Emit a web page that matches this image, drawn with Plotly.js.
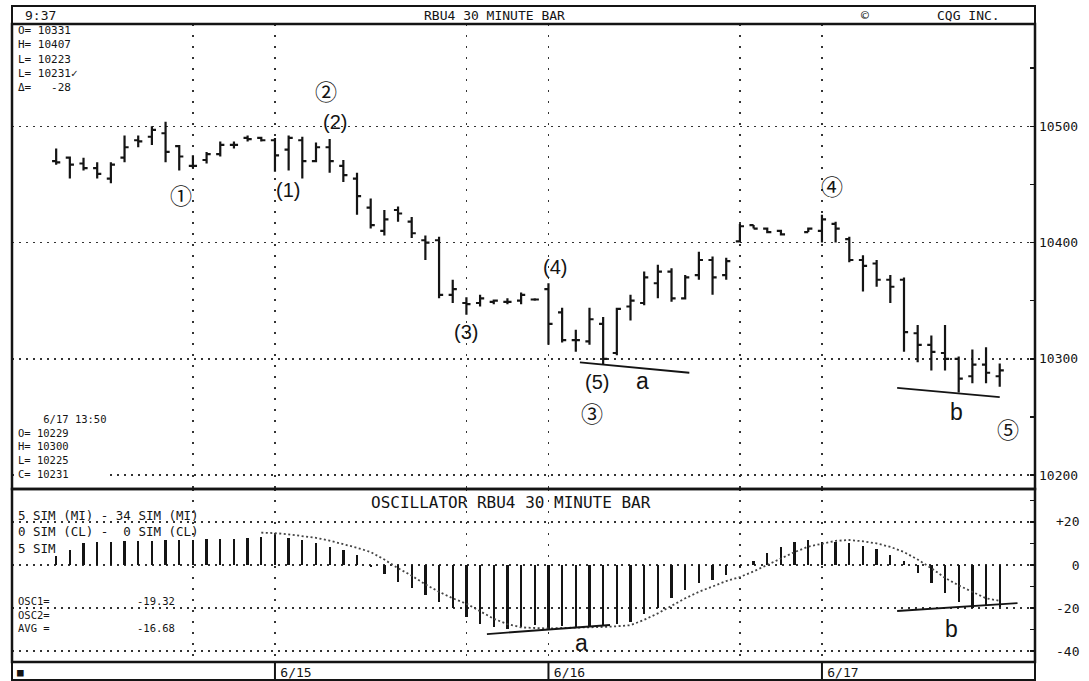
<!DOCTYPE html>
<html><head><meta charset="utf-8">
<script src="https://cdn.plot.ly/plotly-3.0.1.min.js"></script>
<style>html,body{margin:0;padding:0;background:#fff;}#chart{width:1089px;height:681px;}</style>
</head><body><div id="chart"></div>
<script>
// ---- data (30-minute bars, index 0..69) ----
const barIndex = [0,1,2,3,4,5,6,7,8,9,10,11,12,13,14,15,16,17,18,19,20,21,22,23,24,25,26,27,28,29,30,31,32,33,34,35,36,37,38,39,40,41,42,43,44,45,46,47,48,49,50,51,52,53,54,55,56,57,58,59,60,61,62,63,64,65,66,67,68,69];
const openP = [10470,10473,10468,10464,10455,10473,10488,10491,10494,10483,10466,10471,10476,10484,10490,10490,
  10488,10480,10488,10470,10482,10466,10455,10430,10410,10428,10418,10402,10402,10355,10348,10348,10349,10349,10350,10351,
  10360,10340,10316,10315,10330,10305,10345,10348,10365,10375,10352,10372,10385,10372,
  10401,10415,10412,10410,null,10409,
  10410,10416,10403,10385,10382,10368,10368,10322,10312,10305,10300,10285,10295,10285];
const highP = [10481,10474,10473,10469,10469,10492,10492,10500,10504,10484,10475,10478,10487,10487,10492,10491,
  10490,10492,10491,10486,10489,10471,10460,10438,10428,10431,10422,10406,10405,10368,10353,10355,10351,10352,10357,10352,
  10365,10344,10325,10344,10336,10344,10355,10375,10381,10378,10372,10392,10388,10387,
  10416,10415,10413,10411,null,10413,
  10424,10418,10405,10389,10385,10372,10370,10329,10320,10329,10302,10308,10310,10296];
const lowP = [10467,10455,10462,10455,10451,10469,10482,10484,10469,10462,10464,10468,10474,10481,10487,10487,
  10461,10462,10455,10469,10460,10452,10424,10412,10406,10418,10404,10385,10352,10348,10338,10345,10347,10347,10347,10350,
  10312,10314,10306,10312,10295,10303,10333,10346,10352,10349,10351,10368,10355,10368,
  10400,10412,10408,10406,null,10409,
  10400,10400,10383,10358,10362,10348,10306,10297,10290,10290,10271,10279,10279,10276];
const closeP = [10469,10467,10464,10459,10467,10482,10487,10497,10478,10474,10466,10476,10484,10484,10489,10488,
  10475,10490,10470,10482,10470,10458,10440,10415,10420,10425,10408,10400,10355,10360,10347,10352,10350,10349,10355,10351,
  10330,10316,10316,10334,10300,10343,10350,10370,10375,10352,10370,10385,10370,10384,
  10414,10412,10409,10407,null,10412,
  10420,10412,10385,10380,10368,10362,10323,10312,10306,10300,10283,10295,10288,10290];
const oscValues = [4,7,10,10.5,10.5,11,11,11,11.5,11.5,11.5,12,12,12,12.5,13,
  14,12.6,11.6,10,8.4,7,4.7,-1,-4,-8,-10.7,-14,-17,-20,-24,-27.6,-29,-29.7,-29,-28,
  -29.6,-28.5,-29,-29,-28,-27.5,-26.5,-22.6,-20,-15.3,-11.6,-8.4,-7,-4.6,
  -1,2,5.5,8.4,10.7,11.6,
  10.7,10.7,10,9,7.6,4.6,2,-3.8,-8.4,-13,-17,-20,-19,-19.32];
const avgValues = [null,null,null,null,null,null,null,null,null,null,null,null,null,null,null,
  15,14.8,14.2,13.5,12.6,11.3,9.8,8,6,2.5,-1.5,-5,-9,-12.5,-15.5,-18,-21.5,-25,-27.5,-29,
  -29.3,-29.5,-29.3,-29.2,-29,-28.8,-28.5,-28,-25.5,-22.5,-19,-15.5,-12.5,-10,-7.5,
  -5.6,-3,0,3,6,8.5,10,11.2,11.6,11,10,8.4,6,2.5,-1.5,-6,-9.5,-12.5,-15.5,-16.68];
// trend lines (bar index, value)
const trendA_x = [38.3, 46.3], trendA_y = [10297, 10288];
const trendB_x = [61.5, 69.0], trendB_y = [10275, 10267];
const oscTrendA_x = [31.5, 40.5], oscTrendA_y = [-32.1, -27.9];
const oscTrendB_x = [61.5, 70.3], oscTrendB_y = [-21.4, -17.7];
// axis labels
const gridIdx = [10, 16, 30, 36, 50, 56];
const gridText = ['', '6/15', '', '6/16', '', '6/17'];
const dayStartIdx = [16, 36, 56];
const priceTicks = [10200, 10300, 10400, 10500];
const priceTickText = ['10200', '10300', '10400', '10500'];
const oscTicks = [20, 0, -20, -40];
const oscTickText = ['+20', '\u00a0\u00a00', '-20', '-40'];

// ---- layout helpers ----
const Lp = 12, Rp = 1035, Tp = 24, Bp = 662;
const px = x => (x - Lp) / (Rp - Lp);
const py = y => (Bp - y) / (Bp - Tp);
const split = py(489);
const INK = '#141414';
const mono = 'DejaVu Sans Mono, Liberation Mono, monospace';
const sans = 'Liberation Sans, Arial, sans-serif';
const circ = 'Noto Sans CJK JP, DejaVu Sans, sans-serif';

function pAnn(text, x, y, size, xanchor, extra) {
  const a = {text: text, xref: 'paper', yref: 'paper', x: px(x), y: py(y), xanchor: xanchor || 'left', yanchor: 'middle',
    align: xanchor === 'right' ? 'right' : 'left', borderpad: 0,
    showarrow: false, font: {family: mono, size: size, color: INK}};
  return Object.assign(a, extra || {});
}
function dAnn(text, x, y, yref, size, family) {
  return {text: text, xref: 'x', yref: yref, x: x, y: y, xanchor: 'center', yanchor: 'middle',
    showarrow: false, font: {family: family, size: size, color: INK}};
}
const nb = s => s.replace(/ /g, '\u00a0');
const lines = arr => arr.map(nb).join('<br>');

const annotations = [
  pAnn('9:37', 24, 16, 13),
  pAnn(nb('RBU4 30 MINUTE BAR'), 423, 16, 13),
  pAnn('©', 860, 16, 13),
  pAnn(nb('CQG INC.'), 936, 16, 13),
  pAnn(lines(['O= 10331', 'H= 10407', 'L= 10223', 'L= 10231✓', 'Δ=   -28']), 17, 59, 11),
  pAnn(lines(['    6/17 13:50', 'O= 10229', 'H= 10300', 'L= 10225', 'C= 10231']), 17, 446, 10.5, 'left', {bgcolor: '#ffffff'}),
  pAnn(nb('OSCILLATOR RBU4 30 MINUTE BAR'), 370, 502, 16),
  pAnn(lines(['5 SIM (MI) - 34 SIM (MI)', '0 SIM (CL) -  0 SIM (CL)', '5 SIM']), 17, 532, 12.5),
  pAnn(lines(['OSC1=', 'OSC2=', 'AVG =']), 17, 614, 10.5),
  pAnn(lines(['-19.32', ' ', '-16.68']), 176, 614, 10.5, 'right'),
  pAnn('■', 16, 672, 11),
  dAnn('②', 19.73, 10531, 'y', 22, circ),
  dAnn('(2)', 20.39, 10503.6, 'y', 20, sans),
  dAnn('①', 9.12, 10441.7, 'y', 22, circ),
  dAnn('(1)', 16.95, 10445.1, 'y', 20, sans),
  dAnn('(3)', 29.97, 10323, 'y', 20, sans),
  dAnn('(4)', 36.47, 10378.9, 'y', 20, sans),
  dAnn('(5)', 39.55, 10280.1, 'y', 20, sans),
  dAnn('a', 42.91, 10281, 'y', 23, sans),
  dAnn('③', 39.18, 10254.3, 'y', 22, circ),
  dAnn('④', 56.73, 10449.4, 'y', 22, circ),
  dAnn('b', 65.87, 10254, 'y', 23, sans),
  dAnn('⑤', 69.6, 10240.5, 'y', 22, circ),
  dAnn('a', 38.45, -36.3, 'y2', 23, sans),
  dAnn('b', 65.5, -29.8, 'y2', 23, sans)
];

const shapes = [
  {type: 'rect', xref: 'paper', yref: 'paper', x0: 0, x1: 1, y0: split, y1: 1, line: {color: INK, width: 2.5}},
  {type: 'rect', xref: 'paper', yref: 'paper', x0: 0, x1: 1, y0: 0, y1: split, line: {color: INK, width: 2.5}},
  {type: 'rect', xref: 'paper', yref: 'paper', x0: 0, x1: 1, y0: 1, y1: py(6), line: {color: INK, width: 2}},
  {type: 'rect', xref: 'paper', yref: 'paper', x0: 0, x1: 1, y0: py(680), y1: 0, line: {color: INK, width: 2}}
].concat(dayStartIdx.map(d => ({type: 'line', xref: 'x', yref: 'paper', x0: d, x1: d, y0: py(680), y1: 0,
  line: {color: INK, width: 2}})));

const traces = [
  {type: 'ohlc', x: barIndex, open: openP, high: highP, low: lowP, close: closeP, xaxis: 'x', yaxis: 'y',
    increasing: {line: {color: INK, width: 2.2}}, decreasing: {line: {color: INK, width: 2.2}},
    tickwidth: 0.3, hoverinfo: 'skip', showlegend: false},
  {type: 'scatter', mode: 'lines', x: trendA_x, y: trendA_y, xaxis: 'x', yaxis: 'y',
    line: {color: INK, width: 1.8}, hoverinfo: 'skip'},
  {type: 'scatter', mode: 'lines', x: trendB_x, y: trendB_y, xaxis: 'x', yaxis: 'y',
    line: {color: INK, width: 1.8}, hoverinfo: 'skip'},
  {type: 'bar', x: barIndex, y: oscValues, xaxis: 'x', yaxis: 'y2', width: 0.17,
    marker: {color: INK, line: {width: 0}}, hoverinfo: 'skip'},
  {type: 'scatter', mode: 'lines', x: barIndex, y: avgValues, xaxis: 'x', yaxis: 'y2', connectgaps: false,
    line: {color: '#444', width: 1.8, dash: '2px,2.5px'}, hoverinfo: 'skip'},
  {type: 'scatter', mode: 'lines', x: oscTrendA_x, y: oscTrendA_y, xaxis: 'x', yaxis: 'y2',
    line: {color: INK, width: 1.8}, hoverinfo: 'skip'},
  {type: 'scatter', mode: 'lines', x: oscTrendB_x, y: oscTrendB_y, xaxis: 'x', yaxis: 'y2',
    line: {color: INK, width: 1.8}, hoverinfo: 'skip'}
];

const layout = {
  width: 1089, height: 681,
  margin: {l: Lp, r: 1089 - Rp, t: Tp, b: 681 - Bp, pad: 0},
  paper_bgcolor: '#ffffff', plot_bgcolor: '#ffffff',
  showlegend: false, hovermode: false, bargap: 0,
  xaxis: {domain: [0, 1], range: [-3.23, 71.58], anchor: 'y2', tickmode: 'array', tickvals: gridIdx, ticktext: gridText,
    ticks: '', showgrid: true, griddash: '2px,9px', gridcolor: '#333', gridwidth: 1.5, zeroline: false, showline: false,
    rangeslider: {visible: false}, tickfont: {family: mono, size: 13, color: INK}, ticklabelshift: 21, ticklabelstandoff: 1,
    fixedrange: true},
  yaxis: {domain: [split, 1], range: [10188, 10588], anchor: 'x', side: 'right', tickmode: 'array',
    tickvals: priceTicks, ticktext: priceTickText, ticks: 'inside', ticklen: 5, tickwidth: 1.5, tickcolor: INK,
    minor: {tickvals: [10250, 10350, 10450, 10550], ticks: 'inside', ticklen: 5, tickwidth: 1.5, tickcolor: INK, showgrid: false},
    showgrid: true, griddash: '2px,5px', gridcolor: '#333', gridwidth: 1.5, zeroline: false, showline: false,
    tickfont: {family: mono, size: 13, color: INK}, ticklabelstandoff: 3, fixedrange: true},
  yaxis2: {domain: [0, split], range: [-45.1, 35.3], anchor: 'x', side: 'right', tickmode: 'array',
    tickvals: oscTicks, ticktext: oscTickText, ticks: 'inside', ticklen: 5, tickwidth: 1.5, tickcolor: INK,
    minor: {tickvals: [30, 10, -10, -30], ticks: 'inside', ticklen: 5, tickwidth: 1.5, tickcolor: INK, showgrid: false},
    showgrid: true, griddash: '2px,5px', gridcolor: '#333', gridwidth: 1.5, zeroline: false, showline: false,
    tickfont: {family: mono, size: 13, color: INK}, ticklabelstandoff: 20, fixedrange: true},
  annotations: annotations,
  shapes: shapes
};

Plotly.newPlot('chart', traces, layout, {staticPlot: true, displayModeBar: false});
</script></body></html>
